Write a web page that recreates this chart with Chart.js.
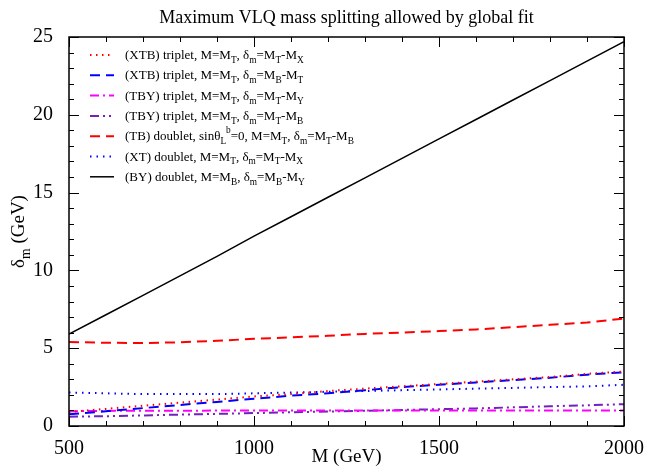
<!DOCTYPE html>
<html>
<head>
<meta charset="utf-8">
<script src="https://cdn.jsdelivr.net/npm/chart.js@4"></script>
<style>
  html, body { margin: 0; padding: 0; background: #fff; }
  #wrap { width: 647px; height: 468px; }
</style>
</head>
<body>
<div id="wrap"><canvas id="myChart" width="647" height="468"></canvas></div>
<script>
var masses = [500, 600, 700, 800, 900, 1000, 1100, 1200, 1300, 1400, 1500, 1600, 1700, 1800, 1900, 2000];

var xtbTripletX = [0.9, 1.1, 1.3, 1.5, 1.7, 1.9, 2.05, 2.25, 2.4, 2.55, 2.7, 2.85, 3.0, 3.15, 3.35, 3.5];
var xtbTripletB = [0.75, 0.95, 1.15, 1.35, 1.55, 1.75, 1.95, 2.1, 2.3, 2.5, 2.65, 2.8, 2.95, 3.1, 3.3, 3.45];
var tbyTripletY = [0.95, 0.97, 0.98, 0.98, 0.99, 0.99, 1.0, 1.0, 1.0, 1.0, 1.0, 1.0, 1.0, 1.0, 1.0, 1.0];
var tbyTripletB = [0.6, 0.63, 0.68, 0.73, 0.78, 0.83, 0.88, 0.93, 0.98, 1.03, 1.08, 1.13, 1.2, 1.27, 1.33, 1.4];
var tbDoublet = [5.4, 5.35, 5.33, 5.38, 5.48, 5.6, 5.7, 5.8, 5.92, 6.0, 6.1, 6.2, 6.35, 6.5, 6.65, 6.9];
var xtDoublet = [2.15, 2.1, 2.05, 2.05, 2.05, 2.1, 2.15, 2.2, 2.25, 2.3, 2.35, 2.4, 2.45, 2.5, 2.55, 2.65];
var byDoublet = [5.9, 7.15, 8.4, 9.65, 10.9, 12.2, 13.45, 14.7, 15.95, 17.2, 18.45, 19.7, 20.95, 22.2, 23.45, 24.7];

var seriesLabels = [
    '(XTB) triplet, M=M_{T}, δ_{m}=M_{T}-M_{X}',
    '(XTB) triplet, M=M_{T}, δ_{m}=M_{B}-M_{T}',
    '(TBY) triplet, M=M_{T}, δ_{m}=M_{T}-M_{Y}',
    '(TBY) triplet, M=M_{T}, δ_{m}=M_{T}-M_{B}',
    '(TB) doublet, sinθ_{L}^{b}=0, M=M_{T}, δ_{m}=M_{T}-M_{B}',
    '(XT) doublet, M=M_{T}, δ_{m}=M_{T}-M_{X}',
    '(BY) doublet, M=M_{B}, δ_{m}=M_{B}-M_{Y}'
];

var serif = '"Liberation Serif", "DejaVu Serif", serif';

function pts(ys) {
    return masses.map(function (m, i) { return { x: m, y: ys[i] }; });
}

// draw text with _{sub} and ^{sup} parts
function richText(ctx, str, x, y, size) {
    var re = /([_^])\{([^}]*)\}/g;
    var last = 0, m;
    var parts = [];
    while ((m = re.exec(str)) !== null) {
        if (m.index > last) parts.push({ t: str.slice(last, m.index), k: '' });
        parts.push({ t: m[2], k: m[1] });
        last = re.lastIndex;
    }
    if (last < str.length) parts.push({ t: str.slice(last), k: '' });
    ctx.textBaseline = 'alphabetic';
    ctx.textAlign = 'left';
    parts.forEach(function (p) {
        if (p.k === '') {
            ctx.font = size + 'px ' + serif;
            ctx.fillText(p.t, x, y);
        } else if (p.k === '_') {
            ctx.font = (size * 0.72) + 'px ' + serif;
            ctx.fillText(p.t, x, y + size * 0.3);
        } else {
            ctx.font = (size * 0.72) + 'px ' + serif;
            ctx.fillText(p.t, x, y - size * 0.55);
        }
        x += ctx.measureText(p.t).width;
    });
    return x;
}

var framePlugin = {
    id: 'frame',
    afterDraw: function (chart) {
        var ctx = chart.ctx;
        var a = chart.chartArea;
        var xs = chart.scales.x, ys = chart.scales.y;
        ctx.save();
        ctx.strokeStyle = '#000';
        ctx.lineWidth = 1.5;
        ctx.setLineDash([]);
        ctx.strokeRect(a.left, a.top, a.right - a.left, a.bottom - a.top);

        // inward ticks on all sides
        ctx.lineWidth = 1;
        ctx.beginPath();
        for (var v = 500; v <= 2000; v += 100) {
            var px = Math.round(xs.getPixelForValue(v)) + 0.5;
            var len = (v % 500 === 0) ? 10 : 5;
            ctx.moveTo(px, a.bottom); ctx.lineTo(px, a.bottom - len);
            ctx.moveTo(px, a.top); ctx.lineTo(px, a.top + len);
        }
        for (var w = 0; w <= 25; w += 1) {
            var py = Math.round(ys.getPixelForValue(w)) + 0.5;
            var l2 = (w % 5 === 0) ? 10 : 5;
            ctx.moveTo(a.left, py); ctx.lineTo(a.left + l2, py);
            ctx.moveTo(a.right, py); ctx.lineTo(a.right - l2, py);
        }
        ctx.stroke();

        // title
        ctx.fillStyle = '#000';
        ctx.font = '18px ' + serif;
        ctx.textAlign = 'center';
        ctx.textBaseline = 'alphabetic';
        ctx.fillText('Maximum VLQ mass splitting allowed by global fit', (a.left + a.right) / 2, 23);

        // y title, rotated
        ctx.save();
        ctx.translate(24, (a.top + a.bottom) / 2);
        ctx.rotate(-Math.PI / 2);
        ctx.font = '19px ' + serif;
        var w1 = ctx.measureText('δ').width;
        ctx.font = (19 * 0.72) + 'px ' + serif;
        var w2 = ctx.measureText('m').width;
        ctx.font = '19px ' + serif;
        var w3 = ctx.measureText(' (GeV)').width;
        richText(ctx, 'δ_{m} (GeV)', -(w1 + w2 + w3) / 2, 0, 19);
        ctx.restore();

        // legend
        var lx = 90, ly = 55;
        chart.data.datasets.forEach(function (ds, i) {
            var yy = ly + i * 20.3;
            ctx.strokeStyle = ds.borderColor;
            ctx.lineWidth = ds.borderWidth;
            ctx.setLineDash(ds.borderDash || []);
            ctx.beginPath();
            ctx.moveTo(lx, yy);
            ctx.lineTo(lx + 24, yy);
            ctx.stroke();
            ctx.setLineDash([]);
            ctx.fillStyle = '#000';
            richText(ctx, seriesLabels[i], 125, yy + 4, 13);
        });
        ctx.restore();
    }
};

var ctx = document.getElementById('myChart').getContext('2d');
var myChart = new Chart(ctx, {
    type: 'line',
    data: {
        datasets: [
            { label: seriesLabels[0], data: pts(xtbTripletX), borderColor: '#ff0000', borderWidth: 2, borderDash: [1.5, 4.5] },
            { label: seriesLabels[1], data: pts(xtbTripletB), borderColor: '#0000ff', borderWidth: 2, borderDash: [10, 6] },
            { label: seriesLabels[2], data: pts(tbyTripletY), borderColor: '#ff00ff', borderWidth: 2, borderDash: [9, 4, 2, 4] },
            { label: seriesLabels[3], data: pts(tbyTripletB), borderColor: '#7221bc', borderWidth: 2, borderDash: [9, 4, 2, 4, 2, 4] },
            { label: seriesLabels[4], data: pts(tbDoublet), borderColor: '#ff0000', borderWidth: 2, borderDash: [10, 6] },
            { label: seriesLabels[5], data: pts(xtDoublet), borderColor: '#0000ff', borderWidth: 2, borderDash: [1.5, 5] },
            { label: seriesLabels[6], data: pts(byDoublet), borderColor: '#000000', borderWidth: 1.5 }
        ]
    },
    options: {
        responsive: false,
        animation: false,
        layout: { padding: { left: 0, top: 37, right: 23, bottom: 0 } },
        elements: { point: { radius: 0 }, line: { tension: 0 } },
        plugins: {
            legend: { display: false },
            title: { display: false },
            tooltip: { enabled: false }
        },
        scales: {
            x: {
                type: 'linear',
                min: 500,
                max: 2000,
                grid: { display: false },
                border: { display: false },
                ticks: { stepSize: 500, color: '#000', padding: 3, maxRotation: 0, font: { family: serif, size: 20 },
                    callback: function (v) { return String(v); } },
                title: { display: true, text: 'M (GeV)', color: '#000', padding: 0, font: { family: serif, size: 19 } },
                afterFit: function (scale) { scale.height = 42; }
            },
            y: {
                min: 0,
                max: 25,
                grid: { display: false },
                border: { display: false },
                ticks: { stepSize: 5, color: '#000', padding: 8, font: { family: serif, size: 20 },
                    callback: function (v) { return String(v); } },
                afterFit: function (scale) { scale.width = 69; }
            }
        }
    },
    plugins: [framePlugin]
});
</script>
</body>
</html>
